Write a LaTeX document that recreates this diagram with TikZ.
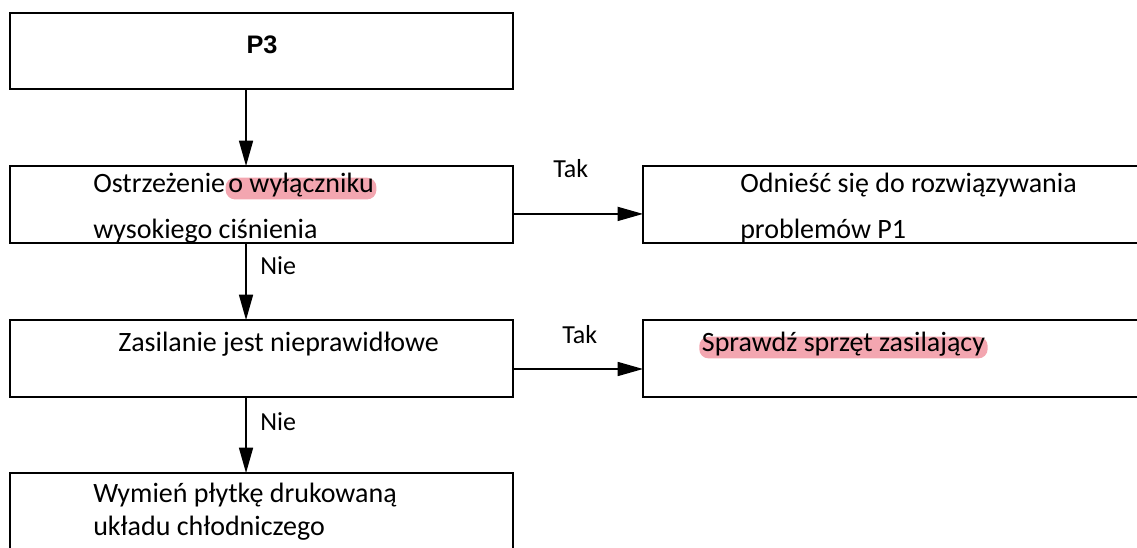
\documentclass[tikz,border=0pt]{standalone}
\usepackage{fontspec}
\setmainfont{Carlito}
\newfontfamily\headfont{Liberation Sans}
\usetikzlibrary{arrows.meta}
\definecolor{hlpink}{RGB}{243,166,176}
\begin{document}
\begin{tikzpicture}[x=0.75pt,y=-0.75pt,
  box/.style={draw, line width=1.5pt, inner sep=0pt, outer sep=0pt,
    anchor=north west, minimum width=377.25pt, minimum height=57.5pt},
  widebox/.style={box, minimum width=385pt},
  txt/.style={inner sep=0pt, anchor=base west, font=\fontsize{21pt}{25pt}\selectfont},
  hl/.style={txt, fill=hlpink, rounded corners=7pt, inner xsep=2pt, inner ysep=0pt,
    text height=11.5pt, text depth=4.8pt},
  arr/.style={line width=1.1pt, -{Triangle[length=19pt,width=10.5pt]}},
  lbl/.style={inner sep=0pt, anchor=base west, font=\fontsize{19.5pt}{23pt}\selectfont}]
\useasboundingbox (0,0) rectangle (1137,548);

% boxes
\node[box, minimum height=57pt] (p3) at (10,13) {};
\node[box] (b2) at (10,166) {};
\node[widebox] (b3) at (643,166) {};
\node[box] (b4) at (10,320) {};
\node[widebox] (b5) at (643,320) {};
\node[box, minimum height=80pt] (b6) at (10,473) {};

% box texts
\node[inner sep=0pt, font=\headfont\bfseries\fontsize{19pt}{22pt}\selectfont] (p3t) at (262,45) {P3};

\node[txt] (t2a) at (93,193) {Ostrzeżenie};
\node[hl] (t2h) at (t2a.base east) {o wyłączniku};
\node[txt] (t2b) at (93,239) {wysokiego ciśnienia};

\node[txt] (t3a) at (740,193) {Odnieść się do rozwiązywania};
\node[txt] (t3b) at (740,239) {problemów P1};

\node[txt] (t4) at (118,352) {Zasilanie jest nieprawidłowe};

\node[hl] (t5) at (699,352) {Sprawdź sprzęt zasilający};

\node[txt] (t6a) at (93,502) {Wymień płytkę drukowaną};
\node[txt] (t6b) at (93,535) {układu chłodniczego};

% connectors
\draw[arr] ([xshift=-11.6pt]p3.south) -- ([xshift=-11.6pt]b2.north);
\draw[arr] ([xshift=-11.6pt]b2.south) -- ([xshift=-11.6pt]b4.north);
\draw[arr] ([xshift=-11.6pt]b4.south) -- ([xshift=-11.6pt]b6.north);
\draw[arr] ([yshift=-7.2pt]b2.east) -- ([yshift=-7.2pt]b2.east -| b3.west);
\draw[arr] ([yshift=-8pt]b4.east) -- ([yshift=-8pt]b4.east -| b5.west);

% connector labels
\node[lbl] (y1) at (553,178) {Tak};
\node[lbl] (y2) at (562,344) {Tak};
\node[lbl] (n1) at (260,275) {Nie};
\node[lbl] (n2) at (260,430) {Nie};
\end{tikzpicture}
\end{document}
